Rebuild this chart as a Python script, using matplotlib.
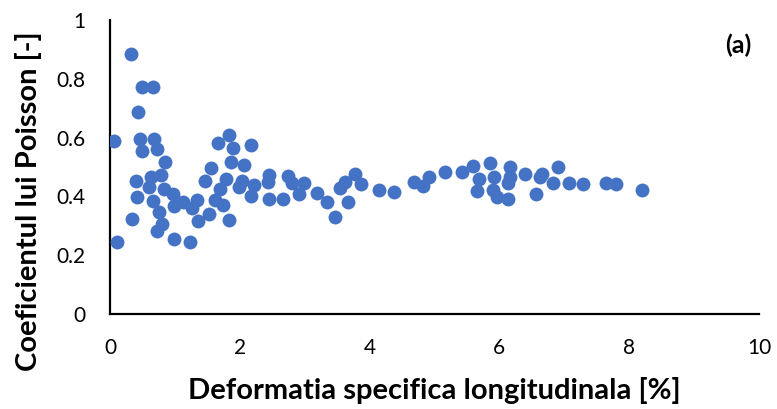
import matplotlib.pyplot as plt

# Longitudinal strain [%] and Poisson's ratio [-]
STRAIN = [0.32, 0.50, 0.66, 0.43, 0.06, 0.46, 0.67, 0.50, 0.73, 0.85,
          0.40, 0.63, 0.78, 0.60, 0.83, 0.42, 0.66, 0.97, 0.98, 1.13,
          0.76, 0.34, 0.80, 0.72, 0.11, 0.99, 1.23, 1.34, 1.26, 1.35,
          1.52, 1.47, 1.55, 1.62, 1.74, 1.70, 1.78, 1.83, 1.67, 1.83,
          1.90, 1.86, 2.07, 2.18, 1.98, 2.04, 2.22, 2.18, 2.45, 2.44,
          2.45, 2.66, 2.75, 2.80, 2.91, 2.99, 3.19, 3.35, 3.46, 3.54,
          3.62, 3.67, 3.78, 3.87, 4.14, 4.38, 4.68, 4.82, 4.92, 5.16,
          5.43, 5.59, 5.85, 5.69, 5.65, 5.92, 5.90, 5.97, 6.16, 6.16,
          6.14, 6.13, 6.40, 6.56, 6.66, 6.62, 6.82, 6.91, 7.08, 7.29,
          7.64, 7.80, 8.20]
POISSON = [0.883, 0.771, 0.773, 0.688, 0.588, 0.596, 0.597, 0.555, 0.560, 0.516,
           0.451, 0.467, 0.472, 0.433, 0.426, 0.399, 0.384, 0.408, 0.368, 0.382,
           0.348, 0.324, 0.305, 0.282, 0.245, 0.256, 0.245, 0.388, 0.362, 0.316,
           0.341, 0.453, 0.497, 0.388, 0.371, 0.424, 0.459, 0.319, 0.582, 0.610,
           0.564, 0.516, 0.507, 0.574, 0.433, 0.453, 0.439, 0.402, 0.474, 0.450,
           0.392, 0.392, 0.470, 0.444, 0.408, 0.447, 0.413, 0.381, 0.330, 0.430,
           0.450, 0.381, 0.475, 0.442, 0.423, 0.414, 0.448, 0.435, 0.467, 0.482,
           0.484, 0.503, 0.512, 0.459, 0.419, 0.467, 0.422, 0.397, 0.499, 0.467,
           0.444, 0.390, 0.476, 0.408, 0.476, 0.467, 0.444, 0.501, 0.444, 0.441,
           0.444, 0.441, 0.422]

XTICKS = [0, 2, 4, 6, 8, 10]
YTICKS = [0, 0.2, 0.4, 0.6, 0.8, 1]
YTICK_LABELS = ["0", "0.2", "0.4", "0.6", "0.8", "1"]

plt.rcParams["font.family"] = ["Lato", "DejaVu Sans"]

fig = plt.figure(figsize=(7.77, 4.09), dpi=100)
ax = fig.add_axes([0.1416, 0.2323, 0.8352, 0.7187])

ax.scatter(STRAIN, POISSON, s=100, color="#4472C4", linewidths=0, zorder=3)

ax.set_xlim(0, 10)
ax.set_ylim(0, 1)
ax.set_xticks(XTICKS)
ax.set_xticklabels([str(t) for t in XTICKS])
ax.set_yticks(YTICKS)
ax.set_yticklabels(YTICK_LABELS)
ax.tick_params(length=0, labelsize=15)
ax.tick_params(axis="x", pad=17)
ax.tick_params(axis="y", pad=18)

for side in ("top", "right"):
    ax.spines[side].set_visible(False)
for side in ("left", "bottom"):
    ax.spines[side].set_linewidth(1.6)
    ax.spines[side].set_color("black")

ax.set_xlabel("Deformatia specifica longitudinala [%]", fontsize=21,
              fontweight="bold", labelpad=14)
ax.set_ylabel("Coeficientul lui Poisson [-]", fontsize=21,
              fontweight="bold")
# the y title sits a bit below the middle of the plot area
ax.yaxis.set_label_coords(-0.105, 0.384)

ax.text(0.968, 0.915, "(a)", transform=ax.transAxes, fontsize=18,
        fontweight="bold", ha="center", va="center")

fig.savefig("out.png", dpi=100)
